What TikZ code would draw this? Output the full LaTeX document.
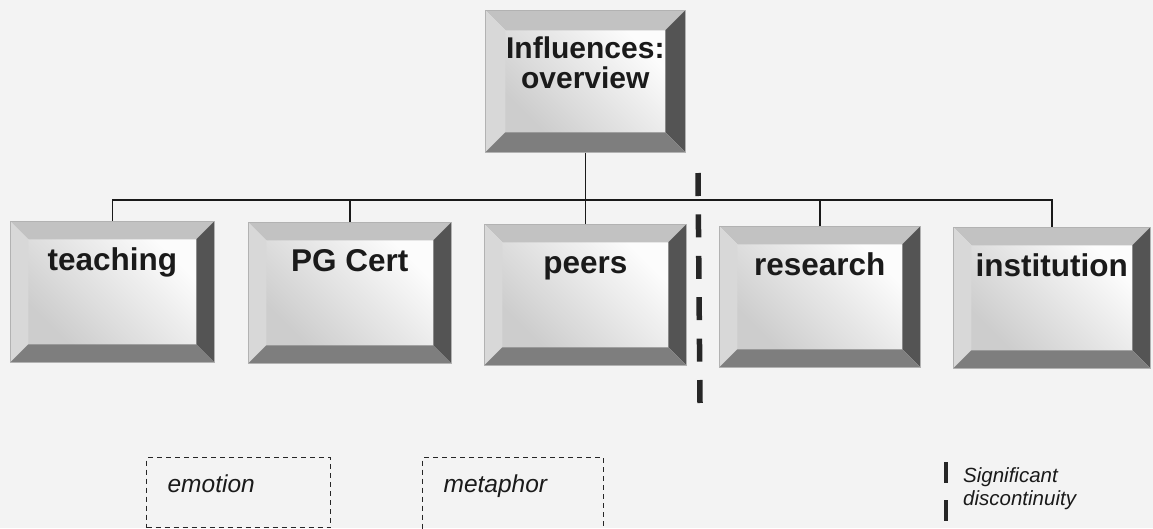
\documentclass[tikz,border=0pt]{standalone}
\usepackage{fontspec}
\setmainfont{Liberation Sans}
\usetikzlibrary{calc}
\definecolor{bg}{HTML}{F3F3F3}
\definecolor{bevT}{HTML}{C2C2C2}
\definecolor{bevL}{HTML}{D8D8D8}
\definecolor{bevR}{HTML}{545454}
\definecolor{bevB}{HTML}{7E7E7E}
\definecolor{faceA}{HTML}{CDCDCD}
\definecolor{faceB}{HTML}{FCFCFC}
\definecolor{ink}{HTML}{1A1A1A}
\newcommand\bevwidth{18pt}
\tikzset{
  bevw/.store in=\bevwidth,
  bevelbox/.style={rectangle, inner sep=0pt, anchor=north west, text=ink,
    draw=gray!60, line width=0.6pt,
    font=\fontsize{31.5}{31.5}\selectfont\bfseries,
    path picture={
      \path (path picture bounding box.south west) coordinate (pSW)
            (path picture bounding box.north east) coordinate (pNE)
            (path picture bounding box.north west) coordinate (pNW)
            (path picture bounding box.south east) coordinate (pSE);
      \shade[top color=faceB, bottom color=faceA, shading angle=-45]
            ([shift={(\bevwidth,\bevwidth)}]pSW) rectangle ([shift={(-\bevwidth,-\bevwidth)}]pNE);
      \fill[bevT] (pNW) -- (pNE) -- ([shift={(-\bevwidth,-\bevwidth)}]pNE) -- ([shift={(\bevwidth,-\bevwidth)}]pNW) -- cycle;
      \fill[bevL] (pNW) -- (pSW) -- ([shift={(\bevwidth,\bevwidth)}]pSW) -- ([shift={(\bevwidth,-\bevwidth)}]pNW) -- cycle;
      \fill[bevR] (pNE) -- (pSE) -- ([shift={(-\bevwidth,\bevwidth)}]pSE) -- ([shift={(-\bevwidth,-\bevwidth)}]pNE) -- cycle;
      \fill[bevB] (pSW) -- (pSE) -- ([shift={(-\bevwidth,\bevwidth)}]pSE) -- ([shift={(\bevwidth,\bevwidth)}]pSW) -- cycle;
    }},
  lowbox/.style={bevelbox, minimum width=#1, text height=49pt, text depth=92pt},
  conn/.style={draw=black!90, line width=1.4pt},
  discline/.style={draw=black!85, line width=5.5pt, dash pattern=on 23pt off 18.4pt},
  dbox/.style={rectangle, anchor=north west, draw=black!85, line width=1.2pt,
    dash pattern=on 5pt off 4pt, inner xsep=21pt, inner ysep=0pt, align=left,
    font=\fontsize{24.5}{24.5}\selectfont\itshape, text=ink},
  legendtext/.style={anchor=base west, inner sep=0pt, align=left,
    font=\fontsize{20.5}{23}\selectfont\itshape, text=ink}
}
\begin{document}
\begin{tikzpicture}[x=1pt,y=-1pt]
\clip (0,0) rectangle (1153,528);
\fill[bg] (0,0) rectangle (1153,528);

\node[bevelbox, bevw=20pt, minimum width=200pt, align=center,
      font=\fontsize{30}{30}\selectfont\bfseries,
      text height=78pt, text depth=64pt] (top) at (485,10) {Influences:\\overview};

\node[lowbox=204pt] (teach) at (10,221) {teaching};
\node[lowbox=203pt] (pgc)   at (248,222) {PG Cert};
\node[lowbox=202pt] (peers) at (484,224) {peers};
\node[lowbox=201pt] (res)   at (719,226) {research};
\node[lowbox=197pt] (inst)  at (953,227) {institution};

\coordinate (bus) at (587,200);
\draw[conn] (top.south) -- (top.south |- peers.north);
\draw[conn] (teach.north) |- (bus) -| (inst.north);
\draw[conn] (pgc.north) -- (pgc.north |- bus);
\draw[conn] (res.north) -- (res.north |- bus);

\coordinate (d1) at (698,173);
\coordinate (d2) at (700,403);
\draw[discline] (d1) -- (d2);

\node[dbox, text width=142pt, text height=35pt, text depth=35pt] (emo) at (146,457) {emotion};
\node[dbox, text width=139pt, text height=35pt, text depth=50pt] (met) at (422,457) {metaphor};

\coordinate (l1) at (946,462);
\coordinate (l2) at (946,526);
\draw[discline, line width=4.8pt, dash pattern=on 21pt off 17pt] (l1) -- (l2);
\node[legendtext] (leg) at (963,505) {Significant\\discontinuity};
\end{tikzpicture}
\end{document}
